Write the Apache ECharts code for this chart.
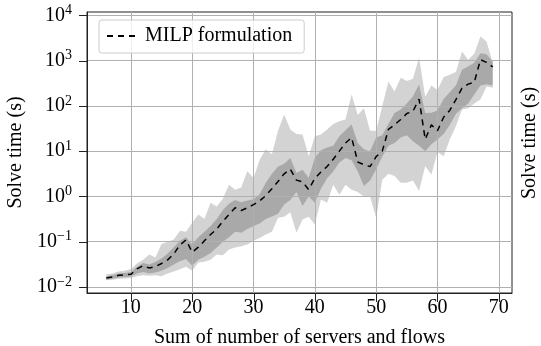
<!DOCTYPE html>
<html>
<head>
<meta charset="utf-8">
<script src="https://cdn.jsdelivr.net/npm/echarts@6/dist/echarts.min.js"></script>
<style>
  html, body { margin: 0; padding: 0; background: #fff; }
  #chart { width: 541px; height: 346px; }
</style>
</head>
<body>
<div id="chart"></div>
<script>
// 横轴：服务器数量与流数量之和
const sizes = [6, 7, 8, 9, 10, 11, 12, 13, 14, 15, 16, 17, 18, 19, 20, 21,
  22, 23, 24, 25, 26, 27, 28, 29, 30, 31, 32, 33, 34, 35, 36, 37,
  38, 39, 40, 41, 42, 43, 44, 45, 46, 47, 48, 49, 50, 51, 52, 53,
  54, 55, 56, 57, 58, 59, 60, 61, 62, 63, 64, 65, 66, 67, 68, 69];

// 以下都是 log10(求解时间/秒)，从对数坐标上读出
// 中位数（虚线）
const median = [-1.80, -1.78, -1.74, -1.73, -1.72, -1.60, -1.53, -1.58, -1.55, -1.48, -1.40, -1.27, -1.07, -0.96, -1.23, -1.12,
  -0.98, -0.84, -0.72, -0.55, -0.40, -0.25, -0.31, -0.25, -0.18, -0.10, 0.02, 0.17, 0.33, 0.50, 0.60, 0.36,
  0.32, 0.15, 0.40, 0.54, 0.66, 0.82, 1.00, 1.18, 1.30, 0.76, 0.70, 0.66, 0.88, 1.00, 1.48, 1.58,
  1.70, 1.83, 1.88, 2.15, 1.26, 1.58, 1.45, 1.75, 1.90, 2.14, 2.39, 2.48, 2.52, 3.02, 2.96, 2.86];

// 深色带（内区间）
const darkLo = [-1.84, -1.82, -1.79, -1.78, -1.77, -1.70, -1.67, -1.70, -1.68, -1.64, -1.58, -1.50, -1.43, -1.38, -1.53, -1.40,
  -1.33, -1.25, -1.13, -1.00, -0.90, -0.78, -0.80, -0.72, -0.65, -0.60, -0.50, -0.44, -0.38, -0.18, -0.08, 0.10,
  -0.21, 0.00, -0.14, 0.17, 0.40, 0.55, 0.75, 0.85, 0.80, 0.55, 0.23, 0.35, 0.60, 0.88, 1.12, 1.18,
  1.30, 1.35, 1.22, 1.12, 1.00, 1.15, 1.26, 1.38, 1.58, 1.82, 1.95, 2.05, 2.25, 2.45, 2.48, 2.45];
const darkHi = [-1.76, -1.74, -1.70, -1.69, -1.67, -1.55, -1.47, -1.50, -1.45, -1.37, -1.26, -1.12, -0.98, -0.90, -1.06, -0.90,
  -0.78, -0.65, -0.50, -0.30, -0.16, -0.08, -0.13, -0.09, -0.06, 0.05, 0.30, 0.50, 0.66, 0.72, 0.85, 0.52,
  0.59, 0.41, 0.85, 1.02, 1.08, 1.12, 1.33, 1.46, 1.59, 1.18, 1.04, 1.00, 1.30, 1.35, 1.60, 1.84,
  1.92, 2.05, 2.21, 2.47, 1.84, 1.85, 1.90, 2.15, 2.30, 2.45, 2.80, 2.87, 2.95, 3.16, 3.14, 2.98];

// 浅色带（外区间）
const lightLo = [-1.85, -1.84, -1.82, -1.81, -1.80, -1.76, -1.74, -1.75, -1.74, -1.76, -1.70, -1.66, -1.61, -1.55, -1.64, -1.46,
  -1.44, -1.40, -1.28, -1.30, -1.17, -1.13, -1.10, -1.06, -0.98, -0.92, -0.84, -0.78, -0.47, -0.45, -0.35, -0.80,
  -0.51, -0.45, -0.62, -0.07, -0.14, 0.26, 0.04, 0.26, 0.15, 0.10, 0.00, 0.00, -0.47, 0.37, 0.50, 0.45,
  0.30, 0.30, 0.35, 0.12, 0.67, 0.48, 0.98, 0.89, 1.26, 1.55, 1.92, 1.95, 2.05, 2.14, 2.43, 2.40];
const lightHi = [-1.72, -1.70, -1.66, -1.64, -1.60, -1.48, -1.40, -1.28, -1.35, -1.05, -1.00, -0.95, -0.76, -0.78, -0.58, -0.40,
  -0.50, -0.14, -0.22, -0.05, 0.26, 0.15, 0.20, 0.56, 0.41, 0.81, 1.04, 0.93, 1.45, 1.81, 1.48, 1.38,
  1.37, 0.89, 1.33, 1.37, 1.48, 1.60, 1.66, 1.70, 2.25, 1.80, 1.95, 1.45, 1.45, 2.00, 2.54, 2.32,
  2.62, 2.55, 2.60, 3.07, 2.20, 2.45, 2.35, 2.63, 2.69, 2.75, 3.20, 3.02, 3.15, 3.53, 3.42, 2.95];

// y 轴刻度（10 的幂次）与 x 轴刻度
const yTicks = [-2, -1, 0, 1, 2, 3, 4];
const xTicks = [10, 20, 30, 40, 50, 60, 70];

const X_MIN = 2.85, X_MAX = 72.15;
const Y_MIN = -2.132, Y_MAX = 4.073;

const FONT = '"Liberation Serif", "DejaVu Serif", serif';

const pairs = arr => sizes.map((x, i) => [x, arr[i]]);
const crisp = v => Math.round(v) + 0.5;

// 区间带：用 custom 系列画一个多边形（上沿正向 + 下沿反向）
function band(name, lo, hi, color) {
  return {
    name: name, type: 'custom', silent: true, z: -1,
    data: sizes.map((x, i) => [x, lo[i], hi[i]]),
    encode: { x: 0, y: [1, 2] },
    renderItem(params, api) {
      if (params.dataIndex !== 0) return null;
      const upper = sizes.map((x, i) => api.coord([x, hi[i]]));
      const lower = sizes.map((x, i) => api.coord([x, lo[i]])).reverse();
      return {
        type: 'polygon',
        shape: { points: upper.concat(lower) },
        style: { fill: color, stroke: null }
      };
    }
  };
}

// 轴外侧刻度线（按坐标轴换算位置）
function tickMarks(name, data, dir, len) {
  return {
    name: name, type: 'custom', silent: true, clip: false, z: 5,
    data: data,
    encode: { x: 0, y: 1 },
    renderItem(params, api) {
      const p = api.coord([api.value(0), api.value(1)]);
      const shape = dir === 'down'
        ? { x1: crisp(p[0]), y1: p[1], x2: crisp(p[0]), y2: p[1] + len }
        : { x1: p[0], y1: crisp(p[1]), x2: p[0] - len, y2: crisp(p[1]) };
      return { type: 'line', shape: shape, style: { stroke: '#222', lineWidth: 1 } };
    }
  };
}

const chart = echarts.init(document.getElementById('chart'), null, { renderer: 'canvas' });

const option = {
  animation: false,
  textStyle: { fontFamily: FONT },
  grid: {
    left: 87, top: 12, width: 425, bottom: 53,
    containLabel: false, outerBoundsMode: 'none',
    show: true, borderColor: '#222', borderWidth: 1, backgroundColor: 'transparent'
  },
  legend: {
    left: 99, top: 20,
    data: ['MILP formulation'],
    itemWidth: 33, itemHeight: 14,
    padding: [6, 12, 7, 7],
    borderColor: '#cccccc', borderWidth: 1, borderRadius: 3,
    backgroundColor: 'rgba(255,255,255,0.8)',
    itemStyle: { opacity: 0 },
    textStyle: { fontFamily: FONT, fontSize: 20, color: '#000', lineHeight: 20 }
  },
  xAxis: {
    type: 'value', min: X_MIN, max: X_MAX,
    name: 'Sum of number of servers and flows',
    nameLocation: 'middle', nameGap: 35,
    nameTextStyle: { fontFamily: FONT, fontSize: 20, color: '#000', lineHeight: 20 },
    axisLine: { show: true, onZero: false, lineStyle: { color: '#222', width: 1 } },
    axisTick: { show: false, customValues: xTicks },
    axisLabel: { customValues: xTicks, margin: 5, fontFamily: FONT, fontSize: 20, color: '#000' },
    splitLine: { show: true, lineStyle: { color: '#b0b0b0', width: 1 } }
  },
  yAxis: {
    type: 'value', min: Y_MIN, max: Y_MAX,
    name: 'Solve time (s)',
    nameLocation: 'middle', nameGap: 61, nameRotate: 90,
    nameTextStyle: { fontFamily: FONT, fontSize: 20, color: '#000', lineHeight: 20 },
    axisLine: { show: true, onZero: false, lineStyle: { color: '#222', width: 1 } },
    axisTick: { show: false, customValues: yTicks },
    axisLabel: {
      customValues: yTicks, margin: 15,
      formatter: v => '{b|10}{s|' + String(Math.round(v)).replace('-', '\u2212') + '}',
      rich: {
        b: { fontFamily: FONT, fontSize: 20, color: '#000', lineHeight: 24 },
        s: { fontFamily: FONT, fontSize: 14, color: '#000', lineHeight: 14, verticalAlign: 'top' }
      }
    },
    splitLine: { show: true, lineStyle: { color: '#b0b0b0', width: 1 } }
  },
  graphic: [{
    type: 'text', x: 529.5, y: 143, rotation: Math.PI / 2,
    style: {
      text: 'Solve time (s)', fill: '#000',
      font: '20px "Liberation Serif", serif',
      textAlign: 'center', textVerticalAlign: 'middle'
    }
  }],
  series: [
    band('outer', lightLo, lightHi, '#d3d3d3'),
    band('inner', darkLo, darkHi, '#a9a9a9'),
    {
      name: 'MILP formulation', type: 'line', data: pairs(median),
      symbol: 'none', z: 3,
      itemStyle: { color: '#000' },
      lineStyle: { color: '#000', width: 1.5, type: [6, 5] }
    },
    tickMarks('xticks', xTicks.map(t => [t, Y_MIN]), 'down', 9),
    tickMarks('yticks', yTicks.map(t => [X_MIN, t]), 'left', 8)
  ]
};

chart.setOption(option);
</script>
</body>
</html>
